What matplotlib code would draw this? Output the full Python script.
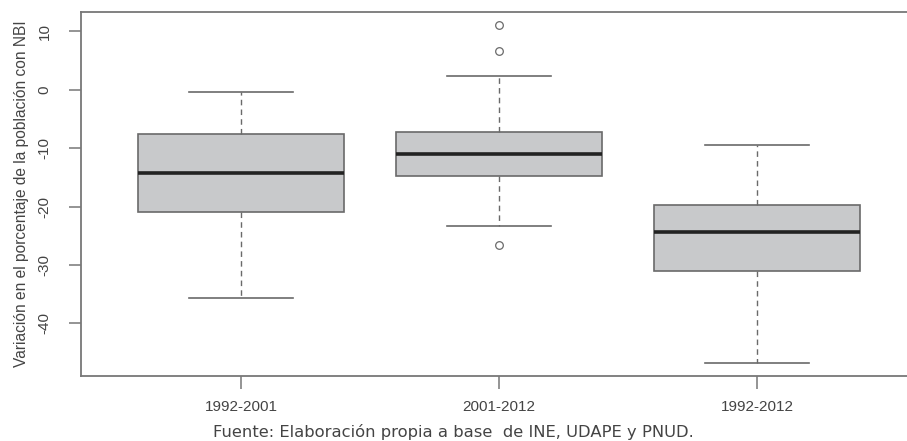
import matplotlib.pyplot as plt

plt.rcParams['font.family'] = ['Liberation Sans', 'DejaVu Sans']

periods = ['1992-2001', '2001-2012', '1992-2012']
medians = [-14.2, -11.0, -24.4]
q1 = [-20.9, -14.75, -31.1]
q3 = [-7.5, -7.2, -19.8]
whis_low = [-35.7, -23.3, -46.7]
whis_high = [-0.35, 2.35, -9.5]
outliers = [[], [11.0, 6.6, -26.5], []]

stats = []
for i, name in enumerate(periods):
    stats.append({'label': name, 'med': medians[i], 'q1': q1[i], 'q3': q3[i],
                  'whislo': whis_low[i], 'whishi': whis_high[i], 'fliers': outliers[i]})

fig = plt.figure(figsize=(9.07, 4.41), dpi=100)
ax = fig.add_axes([81 / 907, 65 / 441, 836 / 907, 364 / 441])

ax.bxp(stats, positions=[1, 2, 3], widths=0.8, patch_artist=True,
       boxprops=dict(facecolor='#c8c9cb', edgecolor='#6a6a6a', linewidth=1.2),
       medianprops=dict(color='#222222', linewidth=2.6),
       whiskerprops=dict(color='#6a6a6a', linewidth=1.0, linestyle=(0, (4, 3))),
       capprops=dict(color='#6a6a6a', linewidth=1.2),
       capwidths=0.4,
       flierprops=dict(marker='o', markersize=5.5, markerfacecolor='none',
                       markeredgecolor='#6a6a6a', markeredgewidth=0.9))

ax.set_xlim(0.38, 3.62)
ax.set_ylim(-49.0, 13.3)
ax.set_yticks([10, 0, -10, -20, -30, -40])
ax.set_yticklabels(['10', '0', '-10', '-20', '-30', '-40'], rotation=90, va='center')

for s in ax.spines.values():
    s.set_color('#777777')
    s.set_linewidth(1.3)

ax.tick_params(axis='both', colors='#777777', labelcolor='#444444', labelsize=11,
               length=9, width=1.1)
ax.tick_params(axis='x', pad=8)
ax.tick_params(axis='y', pad=12)

ax.set_ylabel('Variación en el porcentaje de la población con NBI', fontsize=11.2,
              color='#444444', labelpad=6)

fig.text(453 / 907, 1 - 437 / 441, 'Fuente: Elaboración propia a base  de INE, UDAPE y PNUD.',
         ha='center', va='baseline', fontsize=11.8, color='#444444',
         family=['DejaVu Sans'])

fig.savefig('out.png', dpi=100)
